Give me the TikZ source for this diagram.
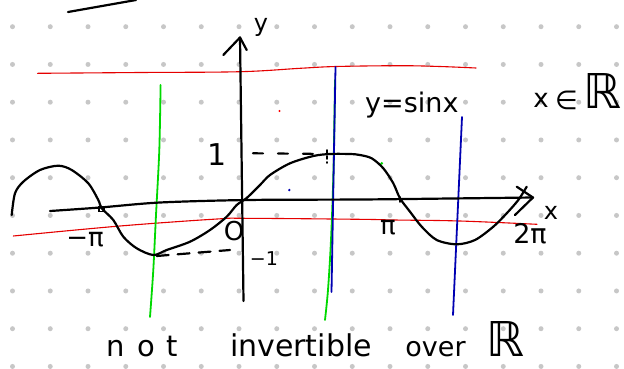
\documentclass[tikz,border=0pt]{standalone}
\usepackage{fontspec}
\setmainfont{DejaVu Sans}
\begin{document}
\begin{tikzpicture}[x=1pt,y=-1pt,
  ink/.style={line width=2.2pt,line cap=round,line join=round,black},
  redline/.style={line width=1.1pt,red!90!black,line cap=round},
  greenline/.style={line width=1.8pt,green!85!black,line cap=round},
  blueline/.style={line width=1.8pt,blue!70!black,line cap=round},
  lbl/.style={inner sep=0pt,font=\fontsize{24}{24}\selectfont},
  gridpt/.style={fill=black!22}
]
\useasboundingbox[fill=white] (0,0) rectangle (624,368);
% dot grid
\foreach \j in {0,...,9}{
  \foreach \k in {0,...,16}{
    \fill[gridpt] ({12.5+37.75*\k},{26.7+37.75*\j}) circle (2.5);
  }
}
% stray stroke top-left
\coordinate (s1) at (68,12); \coordinate (s2) at (136,0);
\draw[ink] (s1) -- (s2);
% red lines
\draw[redline] plot[smooth,tension=0.6] coordinates {(37.5,73.3) (140,72.5) (240,71.7) (300,68.3) (336,66.5) (400,65.7) (440,66.5) (476,68)};
\draw[redline] plot[smooth,tension=0.6] coordinates {(13.3,236) (120,226) (217,219) (246.7,218.3) (360,219.3) (395,220) (460,221) (537,224.3)};
% green lines
\draw[greenline] plot[smooth] coordinates {(160.6,85) (159.3,150) (156,215) (153.3,270) (150,317)};
\draw[greenline] plot[smooth] coordinates {(335,80) (333.5,170) (331,240) (328,290) (325,320)};
% blue lines
\coordinate (b1t) at (335.5,67); \coordinate (b1b) at (331.5,292);
\draw[blueline] (b1t) -- (b1b);
\coordinate (b2t) at (462,117); \coordinate (b2b) at (453,315);
\draw[blueline] (b2t) -- (b2b);
% stray dots
\fill[red] (279.5,111) circle (1.2);
\fill[green!85!black] (381.7,163.3) circle (1.5);
\fill[blue!70!black] (289.3,190) circle (1.3);
% y axis
\coordinate (ytop) at (240,37.5); \coordinate (ybot) at (243.5,301);
\coordinate (yl) at (223.3,55); \coordinate (yr) at (246.7,50);
\draw[ink] (ybot) -- (ytop);
\draw[ink] (yl) -- (ytop) -- (yr);
% x axis
\coordinate (xstart) at (50,211); \coordinate (xend) at (533,197.5);
\coordinate (xu) at (516.7,186.7); \coordinate (xd) at (515,215);
\draw[ink] plot[smooth,tension=0.5] coordinates {(xstart) (100,207.5) (160,202.5) (247,200) (360,199.5) (450,198.5) (xend)};
\draw[ink] (xu) -- (xend) -- (xd);
% ticks
\draw[line width=1.6pt] (99.2,206.5) rectangle (104.2,211.5);
\draw[ink,line width=1.8pt] (400,197) -- (400,202);
% sine curve
\draw[ink] plot[smooth,tension=0.5] coordinates {(11.7,215) (15,193.3) (23.3,181.7) (40,170) (58.3,165.7) (71.7,170) (88.3,183.3) (98.3,200) (101.7,208.3) (113.3,220) (123.3,236.7) (136.7,248.3) (153.3,255) (166.7,250) (190,241.7) (210,230) (226.7,216.7) (236.7,205) (246.7,198) (260,185) (270,175) (290,163.3) (313.3,156) (330,154) (350,154) (360,155) (371.7,158.3) (383.3,168.3) (393.3,183.3) (400,198.3) (410,211.7) (421.7,226.7) (436.7,240) (456.7,244.3) (475,240) (493.3,226.7) (506.7,213.3) (518.3,200) (526.7,186.7)};
% dashed guides
\coordinate (d1a) at (253,153.3); \coordinate (d1b) at (328,154);
\draw[ink,dash pattern=on 10pt off 15pt] (d1a) -- (d1b);
\coordinate (v1a) at (326.7,150); \coordinate (v1b) at (326.7,163);
\draw[ink,line width=1.6pt,dash pattern=on 3pt off 3pt] (v1a) -- (v1b);
\coordinate (d2a) at (156.7,256); \coordinate (d2b) at (230,250);
\draw[ink,dash pattern=on 12pt off 9pt] (d2a) -- (d2b);
% labels
\node[lbl] (ylab) at (261,27) {y};
\node[lbl] (xlab) at (551,213) {x};
\node[lbl,font=\fontsize{30}{30}\selectfont] (one) at (217.5,155) {1};
\node[lbl,font=\fontsize{19}{19}\selectfont] (mone) at (264,259) {−1};
\node[lbl,font=\fontsize{26}{26}\selectfont] (orig) at (234,231) {O};
\node[lbl,font=\fontsize{26}{26}\selectfont] (mpi) at (85,240) {−π};
\node[lbl,font=\fontsize{26}{26}\selectfont] (pi) at (388,228) {π};
\node[lbl,font=\fontsize{27}{27}\selectfont] (tpi) at (530,234) {2π};
\node[lbl,font=\fontsize{27}{27}\selectfont,anchor=base west] (eq) at (365,112) {y=sinx};
\node[lbl,font=\fontsize{26}{26}\selectfont] (xx) at (541,100) {x};
\node[lbl,font=\fontsize{26}{26}\selectfont] (in) at (566.5,100) {∈};
\node[lbl,font=\fontsize{48}{48}\selectfont] (RR) at (603,91) {ℝ};
% bottom sentence
\node[lbl,font=\fontsize{29}{29}\selectfont,anchor=base] (w1) at (142.5,356) {n\hspace{12pt}o\hspace{12pt}t};
\node[lbl,font=\fontsize{30}{30}\selectfont,anchor=base] (w2) at (301,356) {invertible};
\node[lbl,font=\fontsize{27}{27}\selectfont,anchor=base] (w3) at (435.5,356) {over};
\node[lbl,font=\fontsize{48}{48}\selectfont] (w4) at (505.5,339) {ℝ};
\end{tikzpicture}
\end{document}
